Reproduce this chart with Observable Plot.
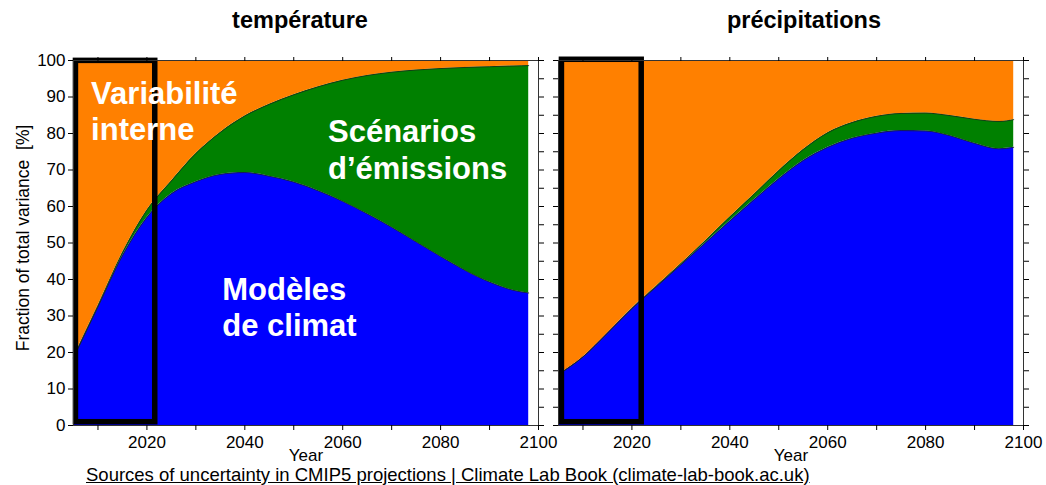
<!DOCTYPE html>
<html><head><meta charset="utf-8">
<script src="https://cdn.jsdelivr.net/npm/d3@7"></script>
<script src="https://cdn.jsdelivr.net/npm/@observablehq/plot@0.6"></script>
<style>
body{margin:0;background:#fff;font-family:"Liberation Sans",Arial,sans-serif;}
#wrap{position:relative;width:1046px;height:485px;overflow:hidden;background:#fff;}
#left,#right{position:absolute;top:0;}
#left{left:0;} #right{left:540px;}
#caption{position:absolute;left:86px;top:466px;font-size:18.5px;line-height:18px;text-decoration:underline;color:#000;white-space:nowrap;font-family:"Liberation Sans",Arial,sans-serif;}
svg{overflow:visible;}
</style></head><body>
<div id="wrap"><div id="left"></div><div id="right"></div><div id="caption"></div></div>
<script>
// ---- data ----
const years = [2005, 2010, 2015, 2020, 2025, 2030, 2035, 2040, 2045, 2050, 2055, 2060, 2065, 2070, 2075, 2080, 2085, 2090, 2095, 2098];
const sources = ["Modèles de climat", "Scénarios d’émissions", "Variabilité interne"];

const tempModels    = [18.5, 32.5, 46.5, 57.0, 63.5, 66.8, 68.8, 69.3, 68.3, 66.7, 64.3, 61.4, 58.0, 54.3, 50.3, 46.3, 42.5, 39.3, 37.0, 36.3];
const tempScenarios = [ 0.2,  0.3,  0.8,  2.0,  3.5,  7.7, 11.5, 15.5, 19.7, 23.9, 28.5, 33.2, 37.9, 42.5, 47.1, 51.5, 55.6, 59.0, 61.5, 62.3];
const tempInternal  = [81.3, 67.2, 52.7, 41.0, 33.0, 25.5, 19.7, 15.2, 12.0,  9.4,  7.2,  5.4,  4.1,  3.2,  2.6,  2.2,  1.9,  1.7,  1.5,  1.4];

const precModels    = [14.0, 18.8, 25.3, 32.0, 38.0, 44.0, 50.0, 56.0, 61.9, 67.6, 72.6, 76.2, 78.7, 80.1, 80.8, 80.7, 79.4, 77.3, 75.8, 76.2];
const precScenarios = [ 0.0,  0.0,  0.0,  0.1,  0.2,  0.3,  0.6,  1.1,  1.5,  2.2,  3.0,  4.0,  4.3,  4.6,  4.7,  4.9,  5.5,  6.6,  7.5,  7.6];
const precInternal  = [86.0, 81.2, 74.7, 67.9, 61.8, 55.7, 49.4, 42.9, 36.6, 30.2, 24.4, 19.8, 17.0, 15.3, 14.5, 14.4, 15.1, 16.1, 16.7, 16.2];

const colors = ["#0000FF", "#008000", "#FF8000"];
const xTickValues = [2010, 2020, 2030, 2040, 2050, 2060, 2070, 2080, 2090, 2100];
const xLabelValues = [2020, 2040, 2060, 2080, 2100];
const yLabelValues = [0, 10, 20, 30, 40, 50, 60, 70, 80, 90, 100];
const yMinorValues = [0, 5, 10, 15, 20, 25, 30, 35, 40, 45, 50, 55, 60, 65, 70, 75, 80, 85, 90, 95, 100];
const titles = ["température", "précipitations"];
const yAxisLabel = "Fraction of total variance\u00a0 [%]";
const xAxisLabel = "Year";
const captionText = "Sources of uncertainty in CMIP5 projections | Climate Lab Book (climate-lab-book.ac.uk)";

function toRows(m, s, i) {
  const out = [];
  [m, s, i].forEach((arr, k) => arr.forEach((v, j) => out.push({year: years[j], source: sources[k], value: v})));
  return out;
}

const FONT = "'Liberation Sans', Arial, Helvetica, sans-serif";

function panel({data, title, width, marginLeft, marginRight, showYLabels, labels, box, titleDx}) {
  const marks = [
    Plot.areaY(data, {x: "year", y: "value", fill: "source", z: "source", curve: "monotone-x"}),
    Plot.lineY(data, Plot.stackY2({x: "year", y: "value", z: "source", stroke: "#1c2a1c", strokeWidth: 0.8, curve: "monotone-x"})),
    Plot.rect([box], {x1: "x1", x2: "x2", y1: "y1", y2: "y2", fill: "none", stroke: "black", strokeWidth: 5.5}),
    Plot.frame({stroke: "#333", strokeWidth: 1}),
    Plot.axisX({ticks: xTickValues, tickFormat: d => xLabelValues.includes(d) ? String(d) : "", tickSize: 5, tickPadding: 5, label: null, fontSize: 17}),
    Plot.axisX({anchor: "top", ticks: xTickValues, tickFormat: () => "", tickSize: 4, label: null}),
    showYLabels
      ? Plot.axisY({ticks: yLabelValues, tickFormat: d => String(d), tickSize: 5, tickPadding: 3, label: null, fontSize: 17})
      : Plot.axisY({ticks: yMinorValues, tickFormat: () => "", tickSize: 5, label: null}),
    Plot.axisY({anchor: "right", ticks: yMinorValues, tickFormat: () => "", tickSize: 5, label: null}),
    Plot.text([title], {frameAnchor: "top", text: d => d, dy: -33, dx: titleDx, lineAnchor: "bottom", fontSize: 23.5, fontWeight: "bold", fill: "black"}),
    Plot.text([xAxisLabel], {frameAnchor: "bottom", text: d => d, dy: 35, lineAnchor: "bottom", fontSize: 17, fill: "black"})
  ];
  if (showYLabels) {
    marks.push(Plot.text([yAxisLabel], {frameAnchor: "left", text: d => d, rotate: -90, dx: -50, dy: -5, lineAnchor: "middle", textAnchor: "middle", fontSize: 17.5, fill: "black"}));
  }
  if (labels) {
    marks.push(Plot.text(labels, {x: "x", y: "y", text: "t", textAnchor: "start", lineAnchor: "bottom", fontSize: 31, fontWeight: "bold", fill: "white"}));
  }
  return Plot.plot({
    width, height: 470, marginLeft, marginRight, marginTop: 60, marginBottom: 45,
    style: {fontFamily: FONT, fontSize: "17px", background: "transparent", overflow: "visible", color: "black"},
    x: {domain: [2005, 2100]},
    y: {domain: [0, 100]},
    color: {domain: sources, range: colors},
    marks
  });
}

const tempLabels = [
  {x: 2008.6, y: 88.2, t: "Variabilité"},
  {x: 2008.6, y: 78.2, t: "interne"},
  {x: 2057.0, y: 77.8, t: "Scénarios"},
  {x: 2057.0, y: 67.5, t: "d’émissions"},
  {x: 2035.4, y: 34.3, t: "Modèles"},
  {x: 2035.4, y: 24.4, t: "de climat"}
];

document.getElementById("left").append(panel({
  data: toRows(tempModels, tempScenarios, tempInternal), title: titles[0],
  width: 545, marginLeft: 73, marginRight: 7, showYLabels: true, labels: tempLabels,
  box: {x1: 2005.5, x2: 2021.7, y1: 0.9, y2: 99.9}, titleDx: -6
}));
document.getElementById("right").append(panel({
  data: toRows(precModels, precScenarios, precInternal), title: titles[1],
  width: 506, marginLeft: 18, marginRight: 23, showYLabels: false, labels: null,
  box: {x1: 2005.7, x2: 2022.0, y1: 0.9, y2: 100.2}, titleDx: 13
}));
document.getElementById("caption").textContent = captionText;
</script>
</body></html>
